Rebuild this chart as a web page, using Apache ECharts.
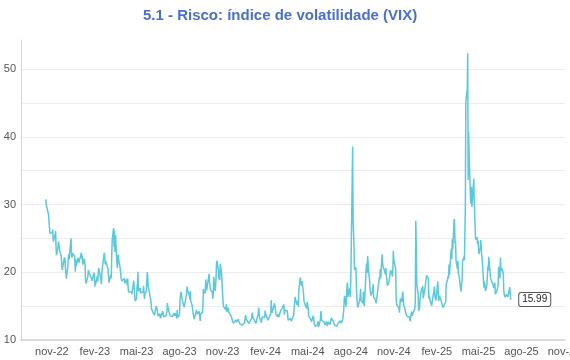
<!DOCTYPE html>
<html><head><meta charset="utf-8">
<script src="https://cdn.jsdelivr.net/npm/echarts@6/dist/echarts.min.js"></script>
<style>html,body{margin:0;padding:0;background:#fff}#c{width:570px;height:360px}</style>
</head><body><div id="c"></div>
<script>
const chartTitle = '5.1 - Risco: índice de volatilidade (VIX)';
// Weekly rows Mon..Fri (null = no quote), first Monday below
const firstWeekMonday = '2022-10-17';
const vixWeeks = [
[null,null,30.76,29.98,29.69],
[29.85,28.46,27.28,27.39,25.75],
[25.88,25.81,25.86,26.26,24.55],
[24.35,25.54,26.09,23.53,22.52],
[23.73,24.54,24.11,23.93,23.12],
[22.36,21.39,20.35,null,20.50],
[22.21,21.89,20.58,19.84,19.06],
[20.75,22.00,22.68,21.89,22.83],
[25.00,22.55,22.17,22.83,22.62],
[22.42,21.97,20.07,21.97,20.87],
[null,22.14,22.14,21.44,21.67],
[null,22.90,22.01,22.46,21.13],
[21.97,21.58,21.09,18.83,18.35],
[null,19.36,20.34,20.52,19.85],
[19.81,19.20,19.08,18.73,18.51],
[19.94,19.40,17.87,18.73,18.33],
[19.43,18.66,19.63,20.63,20.53],
[20.34,18.91,18.23,20.17,20.02],
[null,22.87,22.29,21.14,21.67],
[20.95,20.70,20.58,19.59,18.49],
[18.60,19.59,19.11,22.61,24.80],
[26.52,23.73,26.14,22.99,25.51],
[21.38,20.61,22.26,22.61,21.74],
[20.60,19.97,19.12,19.02,18.70],
[18.55,18.58,19.08,18.40,null],
[18.97,18.10,19.09,17.80,17.07],
[16.95,17.13,17.13,17.10,16.77],
[16.89,18.76,18.84,16.60,15.78],
[16.08,17.78,18.34,20.09,17.19],
[16.98,17.71,16.94,17.03,17.03],
[17.12,17.99,16.87,16.05,16.81],
[17.21,18.53,20.03,19.14,17.95],
[null,17.94,17.94,15.65,14.60],
[14.73,13.96,13.94,13.65,13.83],
[15.01,15.01,14.50,14.50,13.54],
[null,13.88,13.20,12.91,13.44],
[14.25,13.74,13.43,13.54,13.59],
[13.57,null,14.18,15.44,14.83],
[15.07,14.84,13.54,13.61,13.34],
[13.48,13.30,13.76,13.99,13.60],
[13.91,13.86,13.19,14.41,13.33],
[13.63,13.93,16.09,15.92,17.10],
[15.77,15.99,15.96,15.85,14.84],
[14.82,16.46,16.78,17.89,17.30],
[17.13,16.63,15.98,17.20,15.68],
[15.08,14.45,13.88,13.57,13.09],
[null,14.02,14.45,14.40,13.84],
[13.80,14.23,13.48,12.82,13.79],
[14.00,14.11,15.14,17.54,17.20],
[16.90,18.94,18.22,17.34,17.52],
[17.61,19.78,18.58,18.49,17.45],
[17.70,17.03,16.09,16.69,19.32],
[17.21,17.88,19.22,21.40,21.71],
[20.37,18.97,20.19,18.83,21.27],
[19.75,18.14,16.87,15.66,14.91],
[14.89,14.81,14.45,15.29,14.17],
[14.76,14.16,14.18,14.32,13.80],
[13.41,13.35,12.85,null,12.46],
[12.69,12.69,12.98,12.92,12.63],
[13.08,12.85,12.97,13.06,12.35],
[12.63,12.07,12.19,12.48,12.28],
[12.56,12.53,13.67,13.65,13.03],
[null,12.99,12.43,12.47,12.45],
[null,13.20,14.04,14.13,13.35],
[13.08,12.76,12.69,12.44,12.70],
[null,13.84,14.79,14.13,13.30],
[13.19,12.55,13.14,13.45,13.26],
[13.60,13.31,14.35,13.88,13.85],
[13.67,12.93,12.83,12.79,12.93],
[13.93,15.85,14.38,14.01,14.24],
[null,15.42,15.34,14.54,13.75],
[13.74,13.43,13.84,13.40,13.11],
[14.33,14.46,14.50,14.44,14.74],
[15.23,13.75,14.40,14.41,14.41],
[14.33,13.82,12.92,13.06,13.06],
[13.19,12.99,12.78,13.01,null],
[13.65,14.61,14.33,16.35,16.03],
[15.19,15.23,15.80,14.91,17.31],
[19.23,18.40,18.21,18.00,18.71],
[16.94,15.69,15.97,15.37,15.03],
[14.67,15.65,15.39,14.68,13.49],
[13.49,13.23,13.00,12.69,12.55],
[13.60,13.42,12.45,12.42,11.99],
[12.15,11.86,12.29,12.77,11.93],
[null,12.92,14.28,13.49,12.92],
[13.11,13.16,12.63,12.58,12.22],
[12.74,12.85,12.04,11.94,12.66],
[12.75,12.30,null,13.28,13.20],
[12.84,12.84,12.55,12.24,12.44],
[12.22,12.03,12.09,null,12.48],
[12.37,12.51,12.85,12.89,12.46],
[13.12,13.19,14.48,15.93,16.52],
[14.91,14.72,18.04,18.46,16.39],
[16.60,17.69,16.36,18.59,23.39],
[38.57,27.71,27.85,23.79,20.37],
[20.71,18.12,16.19,15.23,14.80],
[14.65,15.88,16.27,17.55,15.86],
[16.15,15.43,17.11,15.65,15.00],
[null,20.72,21.32,19.90,22.38],
[19.45,19.08,17.69,17.07,16.56],
[17.14,17.61,18.23,16.33,16.15],
[15.89,15.39,15.41,15.37,16.96],
[16.73,19.26,18.90,20.49,19.21],
[22.64,21.42,20.86,20.93,20.46],
[19.70,20.64,19.58,19.11,18.03],
[18.37,18.20,19.24,19.08,20.33],
[19.80,19.34,20.35,23.16,21.88],
[21.98,20.49,16.27,15.20,14.94],
[14.97,14.71,14.02,14.31,16.14],
[15.58,16.35,17.16,16.87,15.24],
[14.60,14.10,14.10,null,13.51],
[13.34,13.30,13.45,13.54,12.77],
[14.19,13.58,13.58,13.92,13.81],
[14.69,15.87,27.62,24.09,18.36],
[16.78,14.27,null,14.73,15.95],
[17.40,17.35,null,17.93,16.13],
[16.04,17.82,17.70,null,19.54],
[19.19,18.71,16.12,16.60,15.97],
[null,15.06,15.10,15.02,14.85],
[17.90,16.41,16.56,15.84,16.43],
[18.62,17.21,15.77,15.50,16.54],
[15.81,16.02,15.89,15.10,14.77],
[null,15.35,15.27,15.66,18.21],
[18.98,19.43,19.10,21.13,19.63],
[22.78,23.51,21.93,24.87,23.37],
[27.86,26.92,24.23,24.66,21.77],
[20.51,21.70,19.90,19.80,19.28],
[17.48,17.15,18.33,18.69,21.65],
[22.28,21.77,21.51,30.02,45.31],
[46.98,52.33,33.62,40.72,37.56],
[30.89,30.12,32.64,29.65,null],
[33.82,30.57,28.45,26.47,24.84],
[25.15,24.17,24.70,24.60,22.68],
[23.64,24.76,23.55,22.48,21.90],
[18.39,17.72,18.62,17.83,17.24],
[18.14,18.09,20.87,20.28,22.29],
[null,19.04,19.31,19.18,18.57],
[18.36,17.69,17.68,18.48,16.77],
[17.16,16.95,17.26,18.02,20.82],
[19.11,22.17,20.14,null,20.62],
[19.83,17.48,16.76,16.59,16.32],
[16.73,16.83,16.64,16.38,null],
[17.79,16.81,15.94,15.99,null]
];
const tickDates = ['2022-11-01','2023-02-01','2023-05-01','2023-08-01','2023-11-01','2024-02-01','2024-05-01','2024-08-01','2024-11-01','2025-02-01','2025-05-01','2025-08-01','2025-11-01'];
const tickLabels = ['nov-22','fev-23','mai-23','ago-23','nov-23','fev-24','mai-24','ago-24','nov-24','fev-25','mai-25','ago-25','nov-25'];
const yLabelValues = [10,20,30,40,50];
const xRange = ['2022-08-27','2025-11-02'];
const yRange = [10, 54.3];

function utc(s){const p=s.split('-').map(Number);return Date.UTC(p[0],p[1]-1,p[2]);}
const DAY = 86400000;
const t0 = utc(firstWeekMonday);
const data = [];
vixWeeks.forEach((w,i)=>w.forEach((v,j)=>{ if(v!==null) data.push([t0+(i*7+j)*DAY, v]); }));
const tickTs = tickDates.map(utc);

const chart = echarts.init(document.getElementById('c'), null, {renderer:'canvas'});
const FONT = 'Liberation Sans, Arial, Helvetica, sans-serif';
chart.setOption({
  animation:false,
  backgroundColor:'#fff',
  textStyle:{fontFamily:FONT},
  title:{text:chartTitle,left:138,top:3,textStyle:{color:'#4a6fd4',fontSize:15,fontWeight:'bold',fontFamily:FONT}},
  grid:{left:21,right:5,top:40,bottom:20,outerBoundsMode:'none',containLabel:false},
  xAxis:{type:'value',min:utc(xRange[0]),max:utc(xRange[1]),scale:true,
    axisLine:{lineStyle:{color:'#d4d4d4',width:1.5}},
    axisTick:{show:false},splitLine:{show:false},
    axisLabel:{customValues:tickTs,hideOverlap:false,color:'#555',fontSize:11,margin:6,fontFamily:FONT,
      formatter:function(v){let best=0,bd=Infinity;tickTs.forEach((t,i)=>{const d=Math.abs(t-v);if(d<bd){bd=d;best=i;}});return tickLabels[best];}}},
  yAxis:{type:'value',min:yRange[0],max:yRange[1],interval:5,
    axisLine:{show:true,lineStyle:{color:'#d4d4d4',width:1}},
    axisTick:{show:false},
    splitLine:{show:true,showMaxLine:false,lineStyle:{color:'#ececec',width:1}},
    axisLabel:{showMaxLabel:false,color:'#555',fontSize:11,margin:5,fontFamily:FONT,
      formatter:function(v){return yLabelValues.indexOf(v)>=0?String(v):'';}}},
  series:[{type:'line',data:data,showSymbol:false,symbol:'none',
    lineStyle:{color:'#5bc8e0',width:1.5},
    endLabel:{show:true,distance:8,formatter:function(p){return p.value[1].toFixed(2);},
      backgroundColor:'#fff',borderColor:'#555',borderWidth:1,borderRadius:2,padding:[2,3,1,3],
      fontSize:10,color:'#222',fontFamily:FONT}}]
});
</script></body></html>
